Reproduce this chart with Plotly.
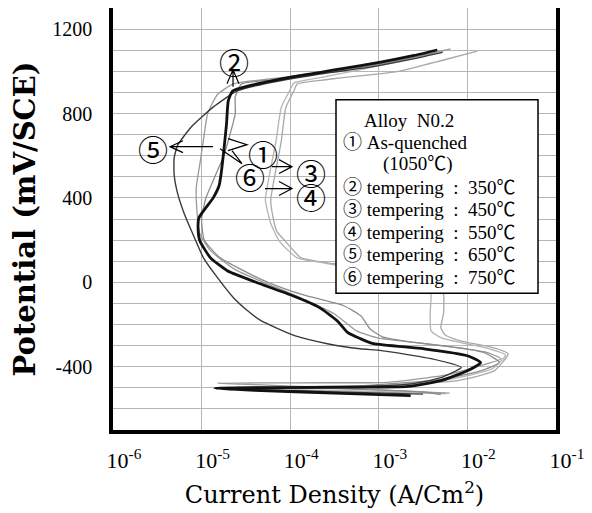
import plotly.graph_objects as go

# ---------------- data ----------------
# current density (A/cm^2) and potential (mV vs SCE), in drawing order
i_1 = [2.29e-3, 3.16e-4, 3.98e-5, 1.41e-5, 6.31e-5, 5.01e-4, 2.14e-3, 5.01e-3, 1.00e-2, 1.41e-2,
       1.00e-2, 3.24e-3, 8.71e-4, 6.17e-4, 4.47e-4, 3.39e-4, 2.14e-4, 1.07e-4, 4.57e-5, 1.95e-5,
       1.26e-5, 9.55e-6, 9.12e-6, 9.33e-6, 1.35e-5, 1.58e-5, 1.66e-5, 1.78e-5, 1.91e-5, 2.00e-5,
       2.24e-5, 3.39e-5, 1.23e-4, 3.72e-4, 1.05e-3, 2.51e-3, 4.57e-3]
E_1 = [-537, -525, -512, -502, -499, -497, -493, -466, -419, -381,
       -348, -315, -291, -267, -239, -182, -120, -64, -7, 55,
       116, 197, 258, 306, 400, 460, 514, 623, 750, 860,
       907, 931, 978, 1011, 1044, 1075, 1101]

i_2 = [6.31e-3, 1.26e-3, 1.58e-4, 1.51e-5, 2.51e-4, 1.26e-3, 5.62e-3, 1.41e-2, 2.40e-2, 1.58e-2,
       6.31e-3, 2.51e-3, 1.00e-3, 5.62e-4, 3.16e-4, 1.26e-4, 5.01e-5, 2.40e-5, 1.26e-5, 9.55e-6,
       8.91e-6, 8.71e-6, 9.55e-6, 1.07e-5, 1.17e-5, 1.51e-5, 2.29e-5, 1.00e-4, 3.98e-4, 1.26e-3,
       3.16e-3, 6.46e-3]
E_2 = [-525, -512, -494, -478, -476, -474, -440, -395, -362, -330,
       -305, -285, -265, -230, -150, -70, 0, 60, 150, 230,
       324, 450, 560, 700, 800, 890, 940, 975, 1005, 1040,
       1075, 1106]

i_3 = [5.75e-3, 3.16e-4, 2.00e-5, 2.51e-4, 1.00e-3, 7.76e-3, 2.00e-2, 2.88e-2, 1.78e-2, 1.17e-2,
       7.94e-3, 5.62e-3, 5.01e-3, 5.37e-3, 5.37e-3, 4.47e-3, 2.00e-3, 6.31e-4, 3.09e-4, 1.32e-4,
       1.10e-4, 8.71e-5, 7.08e-5, 6.46e-5, 6.03e-5, 6.76e-5, 7.94e-5, 8.91e-5, 1.10e-4, 1.20e-4,
       2.51e-4, 3.72e-4, 8.91e-4, 1.78e-3, 5.01e-3, 1.29e-2]
E_3 = [-528, -515, -505, -498, -490, -466, -420, -339, -305, -291,
       -275, -250, -215, -150, -54, 0, 40, 65, 88, 116,
       149, 197, 240, 300, 390, 514, 670, 827, 907, 940,
       960, 969, 985, 1002, 1050, 1096]

i_4 = [4.47e-3, 2.51e-4, 2.51e-5, 3.16e-4, 1.26e-3, 6.31e-3, 1.91e-2, 2.69e-2, 1.58e-2, 8.91e-3,
       5.01e-3, 3.89e-3, 3.80e-3, 3.89e-3, 3.55e-3, 1.41e-3, 5.01e-4, 2.51e-4, 1.20e-4, 9.55e-5,
       7.41e-5, 6.03e-5, 5.25e-5, 5.89e-5, 6.92e-5, 7.94e-5, 9.77e-5, 1.10e-4, 2.51e-4, 5.01e-4,
       1.12e-3, 2.82e-3, 5.62e-3]
E_4 = [-524, -512, -502, -496, -488, -460, -410, -345, -310, -288,
       -262, -230, -150, -54, 0, 40, 68, 90, 116, 150,
       200, 280, 390, 520, 670, 830, 905, 945, 975, 1000,
       1030, 1065, 1100]

i_5 = [3.16e-3, 2.51e-4, 1.58e-5, 3.16e-4, 2.45e-3, 5.01e-3, 8.51e-3, 3.89e-3, 1.07e-3, 6.17e-4,
       2.63e-4, 1.12e-4, 4.68e-5, 3.31e-5, 2.29e-5, 1.51e-5, 1.05e-5, 7.94e-6, 6.31e-6, 5.37e-6,
       4.90e-6, 4.90e-6, 5.37e-6, 7.59e-6, 1.35e-5, 2.51e-5, 5.01e-5, 2.00e-4, 7.94e-4, 2.51e-3,
       5.25e-3]
E_5 = [-530, -518, -504, -498, -480, -452, -404, -362, -324, -315,
       -291, -253, -182, -135, -73, 22, 116, 230, 330, 420,
       510, 590, 650, 735, 830, 907, 940, 985, 1020, 1060,
       1090]

i_6 = [5.01e-3, 3.16e-3, 3.98e-4, 2.51e-5, 6.31e-4, 5.01e-3, 1.41e-2, 2.29e-2, 1.58e-2, 7.94e-3,
       2.51e-3, 1.12e-3, 7.94e-4, 6.31e-4, 3.98e-4, 1.41e-4, 5.62e-5, 2.82e-5, 1.58e-5, 1.07e-5,
       1.00e-5, 1.12e-5, 1.41e-5, 1.78e-5, 2.09e-5, 2.40e-5, 2.40e-5, 2.82e-5, 6.31e-5, 2.00e-4,
       6.31e-4, 1.58e-3, 4.47e-3]
E_6 = [-532, -520, -505, -497, -490, -460, -420, -380, -335, -310,
       -285, -260, -220, -160, -110, -60, 0, 60, 120, 200,
       300, 400, 500, 600, 700, 800, 880, 940, 960, 990,
       1020, 1050, 1090]

x_tickvals = [1e-6, 1e-5, 1e-4, 1e-3, 1e-2, 1e-1]
x_ticktext = ["10<sup>-6</sup>", "10<sup>-5</sup>", "10<sup>-4</sup>",
              "10<sup>-3</sup>", "10<sup>-2</sup>", "10<sup>-1</sup>"]
# horizontal grid every 100 mV, labelled every 400 mV
y_tickvals = [-700, -600, -500, -400, -300, -200, -100, 0, 100, 200,
              300, 400, 500, 600, 700, 800, 900, 1000, 1100, 1200, 1300]
y_ticktext = ["", "", "", "-400", "", "", "", "0", "", "",
              "", "400", "", "", "", "800", "", "", "", "1200", ""]

legend_title = "Alloy\u00a0\u00a0N0.2"
legend_lines = ["\u2460\u00a0As-quenched", "(1050\u2103)",
                "\u2461\u00a0tempering\u00a0\u00a0:\u00a0\u00a0350\u2103",
                "\u2462\u00a0tempering\u00a0\u00a0:\u00a0\u00a0450\u2103",
                "\u2463\u00a0tempering\u00a0\u00a0:\u00a0\u00a0550\u2103",
                "\u2464\u00a0tempering\u00a0\u00a0:\u00a0\u00a0650\u2103",
                "\u2465\u00a0tempering\u00a0\u00a0:\u00a0\u00a0750\u2103"]

# ---------------- figure ----------------
OFF = 8                          # default page (body) margin of the html
W, H = 592 - OFF, 513 - OFF      # figure size so it fits the window
L, R, T, B = 113, 556, 7, 430    # plot area in window pixels


def px(x):
    return (x - L) / (R - L)


def py(y):
    return (B - y) / (B - T)


SERIF = "Liberation Serif, 'Noto Sans CJK KR', serif"
CJK = "'Noto Sans CJK KR', 'DejaVu Sans', sans-serif"

fig = go.Figure()

curves = [
    ("3", i_3, E_3, "#a8a8a8", 1.3),
    ("4", i_4, E_4, "#b4b4b4", 1.3),
    ("2", i_2, E_2, "#9a9a9a", 1.3),
    ("6", i_6, E_6, "#8c8c8c", 1.3),
    ("5", i_5, E_5, "#3a3a3a", 1.4),
    ("1", i_1, E_1, "#111111", 2.8),
]
for name, xs, ys, col, w in curves:
    fig.add_trace(go.Scatter(x=xs, y=ys, mode="lines", name=name, showlegend=False,
                             line=dict(color=col, width=w, shape="spline", smoothing=0.5),
                             hoverinfo="skip"))

grid_col = "#b5b5b5"
fig.update_xaxes(type="log", range=[-6, -1], tickmode="array", tickvals=x_tickvals,
                 ticktext=x_ticktext, showgrid=True, gridcolor=grid_col, gridwidth=1.2,
                 showline=True, linecolor="black", linewidth=3.5, mirror=True,
                 ticks="", zeroline=False, ticklabelshift=11, ticklabelstandoff=8,
                 automargin=False,
                 tickfont=dict(family=SERIF, size=22, color="black"),
                 title=dict(text="Current Density (A/Cm<sup>2</sup>)",
                            font=dict(family="DejaVu Serif, serif", size=24, color="black"),
                            standoff=15))
fig.update_yaxes(range=[-700, 1300], tickmode="array", tickvals=y_tickvals,
                 ticktext=y_ticktext, showgrid=True, gridcolor=grid_col, gridwidth=1.2,
                 showline=True, linecolor="black", linewidth=3.5, mirror=True,
                 ticks="", zeroline=False, ticklabelstandoff=13, automargin=False,
                 tickfont=dict(family=SERIF, size=20, color="black"),
                 title=dict(text="<b>Potential (mV/SCE)</b>",
                            font=dict(family="DejaVu Serif, serif", size=29, color="black"),
                            standoff=9))

shapes = []
# legend box
shapes.append(dict(type="rect", xref="paper", yref="paper", x0=px(336), x1=px(538),
                   y0=py(293), y1=py(99), fillcolor="white",
                   line=dict(color="black", width=1.5), layer="above"))


def path(*segs):
    out = ""
    for seg in segs:
        for k, (x, y) in enumerate(seg):
            out += ("M" if k == 0 else "L") + f"{px(x):.4f},{py(y):.4f} "
    return out.strip()


arrow_paths = [
    path([(170, 146), (213, 146)], [(183, 140), (170, 146), (183, 152)]),          # 5
    path([(228, 138), (247, 144), (228, 150)]),                                   # 1
    path([(220, 148), (242, 163)], [(232, 150), (242, 163)]),                      # 6
    path([(272, 166), (292, 166)], [(279, 159), (292, 166), (279, 173)]),          # 3
    path([(265, 188), (292, 188)], [(279, 181), (292, 188), (279, 195)]),          # 4
    path([(227, 83), (233, 69), (239, 83)], [(233, 69), (233, 86)]),               # 2
]
for p in arrow_paths:
    shapes.append(dict(type="path", xref="paper", yref="paper", path=p,
                       line=dict(color="black", width=1.2), layer="above"))

annotations = []
marker_labels = [("\u2461", 234, 60), ("\u2464", 153, 147), ("\u2460", 263, 152),
                 ("\u2465", 250, 175), ("\u2462", 311, 171), ("\u2463", 311, 195)]
for t, x, y in marker_labels:
    annotations.append(dict(text=t, xref="paper", yref="paper", x=px(x), y=py(y),
                            xanchor="center", yanchor="middle", showarrow=False,
                            font=dict(family=CJK, size=30, color="black")))

annotations.append(dict(text=legend_title, xref="paper", yref="paper", x=px(362), y=py(120),
                        xanchor="left", yanchor="middle", showarrow=False,
                        font=dict(family=SERIF, size=19, color="black")))
leg_pos = [(341, 142), (381, 163), (341, 187), (341, 209), (341, 232), (341, 254), (341, 277)]
for t, (x, y) in zip(legend_lines, leg_pos):
    annotations.append(dict(text=t, xref="paper", yref="paper", x=px(x), y=py(y),
                            xanchor="left", yanchor="middle", showarrow=False,
                            font=dict(family=SERIF, size=19, color="black")))

fig.update_layout(width=W, height=H,
                  margin=dict(l=L - OFF, r=592 - R, t=T - OFF + 1, b=513 - B, autoexpand=False),
                  paper_bgcolor="white", plot_bgcolor="white",
                  shapes=shapes, annotations=annotations, showlegend=False)

fig.write_html("out.html")
